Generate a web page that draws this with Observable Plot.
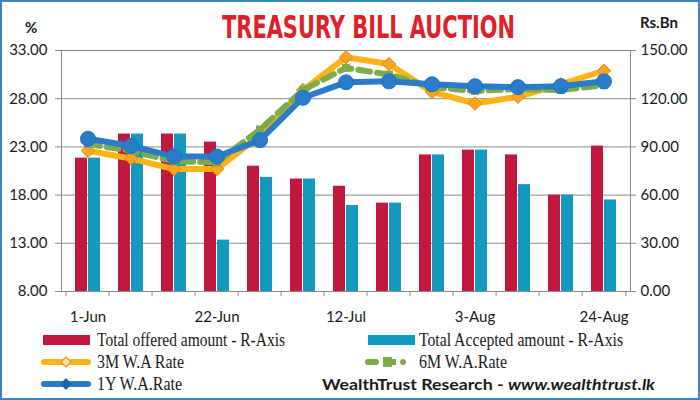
<!DOCTYPE html>
<html><head><meta charset="utf-8">
<script src="https://cdn.jsdelivr.net/npm/d3@7"></script>
<script src="https://cdn.jsdelivr.net/npm/@observablehq/plot@0.6"></script>
<style>
body{margin:0;background:#fff}
#wrap{position:relative;width:700px;height:400px;overflow:hidden;background:#fff}
#chart{position:absolute;left:0;top:0}
#border{position:absolute;left:0;top:0;width:700px;height:400px;box-sizing:border-box;border:2px solid #3a86cb;pointer-events:none}
.t{position:absolute;white-space:nowrap;display:inline-block;transform-origin:left center}
.leg{font-family:"Liberation Serif","DejaVu Serif",serif;font-size:19px;line-height:20px;color:#1a1a1a}
.sw{position:absolute}
</style></head>
<body>
<div id="wrap">
  <div id="chart"></div>
  <div class="t" id="title" style="left:222px;top:11px;font-family:'Liberation Sans Narrow','DejaVu Sans Condensed','Roboto',sans-serif;font-weight:bold;font-size:32px;line-height:32px;color:#e11f2a">TREASURY BILL AUCTION</div>
  <div class="t" id="pct" style="left:25px;top:19px;font-family:Lato,sans-serif;font-weight:bold;font-size:15px;line-height:16px;color:#1a1a1a">%</div>
  <div class="t" id="rsbn" style="left:640px;top:14px;font-family:Lato,sans-serif;font-weight:bold;font-size:15px;line-height:16px;color:#1a1a1a">Rs.Bn</div>

  <div class="sw" style="left:43px;top:335px;width:47px;height:10px;background:#c0183f"></div>
  <div class="t leg" id="l1" style="left:97px;top:330px">Total offered amount - R-Axis</div>
  <div class="sw" style="left:368px;top:335px;width:47px;height:10px;background:#1398c0"></div>
  <div class="t leg" id="l2" style="left:419px;top:330px">Total Accepted amount - R-Axis</div>

  <div class="sw" style="left:41px;top:359px;width:50px;height:6px;border-radius:3px;background:#fbb318"></div>
  <div class="sw" style="left:62px;top:358px;width:6px;height:6px;transform:rotate(45deg);background:#fde3a0;border:1px solid #e8801f"></div>
  <div class="t leg" id="l3" style="left:97px;top:352px">3M W.A Rate</div>

  <div class="sw" style="left:365px;top:359px;width:14px;height:6px;border-radius:3px;background:#7dab4a"></div>
  <div class="sw" style="left:383px;top:357px;width:9px;height:10px;background:#7dab4a"></div>
  <div class="sw" style="left:392px;top:359px;width:4px;height:6px;background:#7dab4a"></div>
  <div class="sw" style="left:400px;top:359px;width:6px;height:6px;border-radius:3px;background:#7dab4a"></div>
  <div class="t leg" id="l4" style="left:419px;top:352px">6M W.A.Rate</div>

  <div class="sw" style="left:41px;top:381px;width:50px;height:6px;border-radius:3px;background:#2a7bc9"></div>
  <div class="sw" style="left:62px;top:380px;width:6px;height:6px;transform:rotate(45deg);background:#1f64a8;border:1px solid #1f64a8"></div>
  <div class="t leg" id="l5" style="left:97px;top:374px">1Y W.A.Rate</div>

  <div class="t" id="wt" style="left:322px;top:374px;font-family:Lato,sans-serif;font-weight:bold;font-size:16px;line-height:20px;color:#1a1a1a">WealthTrust Research - <i>www.wealthtrust.lk</i></div>
  <div id="border"></div>
</div>
<script>
const dates = ["1-Jun","8-Jun","15-Jun","22-Jun","29-Jun","6-Jul","12-Jul","19-Jul","26-Jul","3-Aug","10-Aug","17-Aug","24-Aug"];
const tickLabels = ["1-Jun","22-Jun","12-Jul","3-Aug","24-Aug"];
const offered  = [83, 98, 98, 93, 78, 70, 65.5, 55, 85, 88, 85, 60, 90.5];
const accepted = [83, 98, 98, 32, 71, 70, 53.5, 55, 85, 88, 66.5, 60, 57];
const rate3M = [22.6, 21.8, 20.7, 20.7, 24.2, 28.9, 32.3, 31.6, 28.7, 27.5, 28.2, 29.5, 30.9];
const rate6M = [23.3, 22.6, 21.5, 21.4, 24.8, 28.9, 31.2, 30.5, 29.2, 28.8, 29.0, 28.9, 29.4];
const rate1Y = [23.84, 23.1, 22.0, 22.0, 23.7, 28.1, 29.7, 29.8, 29.5, 29.3, 29.2, 29.3, 29.8];
const leftTicks = [8, 13, 18, 23, 28, 33];
const rightTicks = [0, 30, 60, 90, 120, 150];

const rows = dates.map((d, i) => ({date: d, offered: offered[i], accepted: accepted[i], r3: rate3M[i], r6: rate6M[i], r1: rate1Y[i]}));
const toAmt = r => (r - 8) * 6; // left axis 8–33 mapped onto right axis 0–150
const step = 570 / 13;

const plot = Plot.plot({
  width: 700, height: 335,
  marginTop: 50, marginLeft: 61, marginRight: 70, marginBottom: 44,
  x: {type: "band", domain: dates, paddingInner: 0.41, paddingOuter: 0.205, label: null},
  y: {domain: [0, 150], label: null},
  style: {fontFamily: "Lato, sans-serif", fontSize: "15px", color: "#1a1a1a", background: "transparent", overflow: "visible"},
  marks: [
    Plot.ruleY(rightTicks, {stroke: "#8a8a8a", strokeWidth: 1}),
    Plot.barY(rows, {x: "date", y: "offered", fill: "#c0183f", insetRight: 13}),
    Plot.barY(rows, {x: "date", y: "accepted", fill: "#1398c0", insetLeft: 13}),
    Plot.frame({stroke: "#8a8a8a"}),
    Plot.ruleX(rows, {x: "date", dx: -step / 2, y1: () => 0, y2: () => -3.2, stroke: "#8a8a8a"}),
    Plot.ruleX([rows[rows.length - 1]], {x: "date", dx: step / 2, y1: () => 0, y2: () => -3.2, stroke: "#8a8a8a"}),
    Plot.axisY({anchor: "left", ticks: rightTicks, tickFormat: t => (t / 6 + 8).toFixed(2), tickSize: 6, tickPadding: 8, stroke: "#8a8a8a"}),
    Plot.axisY({anchor: "right", ticks: rightTicks, tickFormat: t => t.toFixed(2), tickSize: 5, tickPadding: 5, stroke: "#8a8a8a"}),
    Plot.axisX({ticks: tickLabels, tickSize: 0, tickPadding: 20}),
    Plot.line(rows, {x: "date", y: d => toAmt(d.r3), stroke: "#fbb318", strokeWidth: 6, strokeLinejoin: "round", strokeLinecap: "round"}),
    Plot.dot(rows, {x: "date", y: d => toAmt(d.r3), symbol: "diamond2", r: 6, fill: "#f9a61c", stroke: "#e8801f", strokeWidth: 1}),
    Plot.line(rows, {x: "date", y: d => toAmt(d.r6), stroke: "#7dab4a", strokeWidth: 6, strokeDasharray: "12,7", strokeLinejoin: "round"}),
    Plot.dot(rows, {x: "date", y: d => toAmt(d.r6), symbol: "square", r: 4.5, fill: "#7dab4a"}),
    Plot.line(rows, {x: "date", y: d => toAmt(d.r1), stroke: "#2a7bc9", strokeWidth: 6, strokeLinejoin: "round", strokeLinecap: "round"}),
    Plot.dot(rows, {x: "date", y: d => toAmt(d.r1), r: 7.5, fill: "#2a7bc9", stroke: "#2470bb", strokeWidth: 1})
  ]
});
document.getElementById("chart").appendChild(plot);

function fit(id, w) {
  const el = document.getElementById(id);
  const r = el.getBoundingClientRect().width;
  if (r > 0) el.style.transform = `scaleX(${w / r})`;
}
fit("title", 293);
fit("l1", 188);
fit("l2", 204);
fit("l3", 87);
fit("l4", 88);
fit("l5", 85);
fit("wt", 333);
</script>
</body></html>
